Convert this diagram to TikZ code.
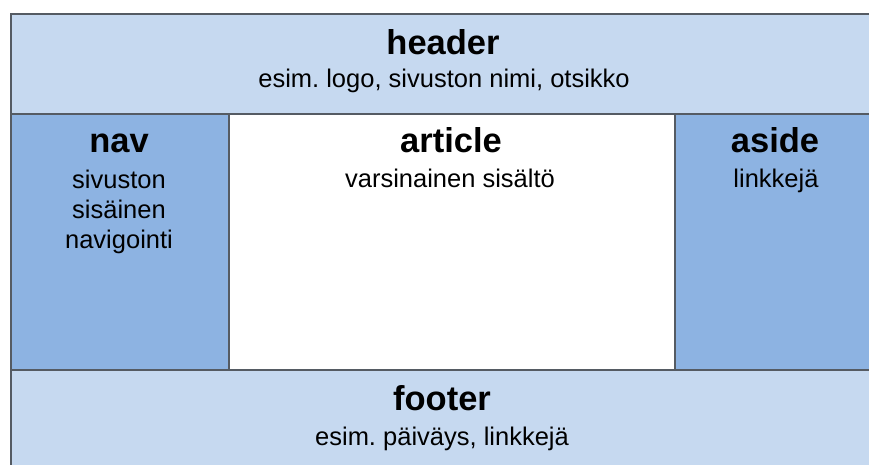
\documentclass[tikz,border=0pt]{standalone}
\usepackage{fontspec}
\setmainfont{Liberation Sans}
\frenchspacing
\definecolor{lightpanel}{HTML}{C6D9F0}
\definecolor{sidepanel}{HTML}{8DB3E2}
\definecolor{edge}{HTML}{555B63}
\begin{document}
\begin{tikzpicture}[x=1pt,y=-1pt,
  panel/.style={draw=edge,line width=1.6pt},
  title/.style={font=\fontsize{34.5}{38}\selectfont\bfseries,inner sep=0pt,anchor=base},
  sub/.style={font=\fontsize{25.5}{30}\selectfont,inner sep=0pt,anchor=base,align=center}]
\useasboundingbox (0,0) rectangle (869,465);
\fill[white] (0,0) rectangle (869,465);
% page regions
\filldraw[panel,fill=lightpanel] (11,14) rectangle (880,114);
\filldraw[panel,fill=sidepanel] (11,114) rectangle (229,370);
\filldraw[panel,fill=white] (229,114) rectangle (675,370);
\filldraw[panel,fill=sidepanel] (675,114) rectangle (880,370);
\filldraw[panel,fill=lightpanel] (11,370) rectangle (880,480);
% labels
\node[title] (header) at (443,55) {header};
\node[sub] (headersub) at (444,88) {esim. logo, sivuston nimi, otsikko};
\node[title] (nav) at (119,153) {nav};
\node[sub,anchor=north] (navsub) at (119,170) {sivuston\\sisäinen\\navigointi};
\node[title] (article) at (451,153) {article};
\node[sub] (articlesub) at (450,187) {varsinainen sisältö};
\node[title] (aside) at (775,153) {aside};
\node[sub] (asidesub) at (776,187) {linkkejä};
\node[title] (footer) at (442,410) {footer};
\node[sub] (footersub) at (442,445) {esim. päiväys, linkkejä};
\end{tikzpicture}
\end{document}
